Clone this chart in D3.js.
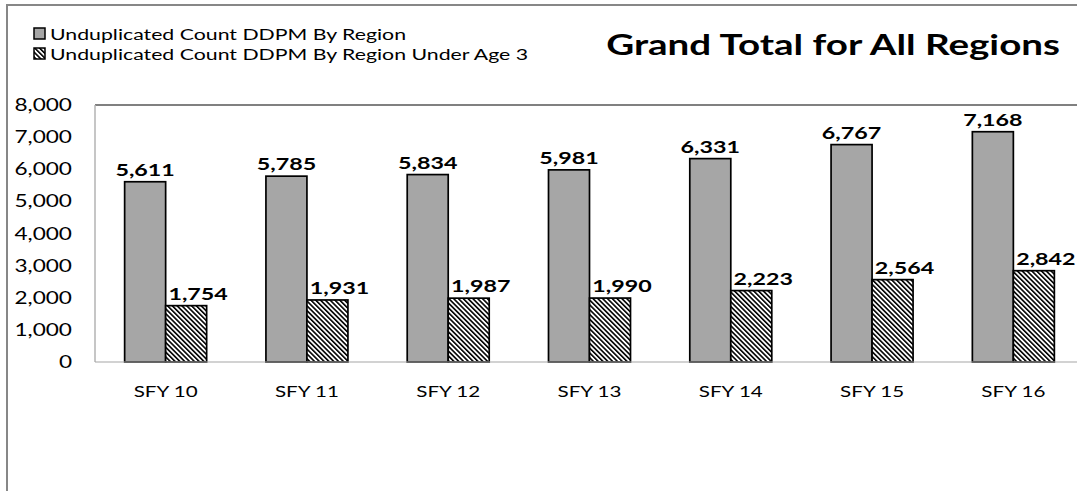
<!DOCTYPE html>
<html>
<head>
<meta charset="utf-8">
<script src="https://cdn.jsdelivr.net/npm/d3@7"></script>
<style>
  body { margin: 0; background: #fff; }
  svg { display: block; font-family: Lato, "Open Sans", sans-serif; }
</style>
</head>
<body>
<svg width="1077" height="491"></svg>
<script>
var years = ["SFY 10", "SFY 11", "SFY 12", "SFY 13", "SFY 14", "SFY 15", "SFY 16"];
var allCounts = [5611, 5785, 5834, 5981, 6331, 6767, 7168];
var under3Counts = [1754, 1931, 1987, 1990, 2223, 2564, 2842];
var seriesNames = ["Unduplicated Count DDPM By Region", "Unduplicated Count DDPM By Region Under Age 3"];
var yTicks = [0, 1000, 2000, 3000, 4000, 5000, 6000, 7000, 8000];
var title = "Grand Total for All Regions";

// the picture is wider than the text inside it, so text gets squeezed out sideways
var SX = 1.33;

var svg = d3.select("svg"),
    plot = {left: 95, top: 105, right: 1084, bottom: 362};

var defs = svg.append("defs");
defs.append("pattern")
    .attr("id", "hatch")
    .attr("patternUnits", "userSpaceOnUse")
    .attr("width", 3.4).attr("height", 3.4)
    .attr("patternTransform", "rotate(-45)")
    .call(function (p) {
        p.append("rect").attr("width", 3.4).attr("height", 3.4).attr("fill", "#fff");
        p.append("rect").attr("width", 1.6).attr("height", 3.4).attr("fill", "#000");
    });

function place(sel, x, y) {
    return sel.attr("transform", "translate(" + x + "," + y + ") scale(" + SX + ",1)");
}

// outer frame
svg.append("rect")
    .attr("x", 7).attr("y", 5)
    .attr("width", 1200).attr("height", 600)
    .attr("fill", "none")
    .attr("stroke", "#878787")
    .attr("stroke-width", 2);

var x = d3.scaleBand().domain(years).range([plot.left, plot.right]);
var y = d3.scaleLinear().domain([0, 8000]).range([plot.bottom, plot.top]);
var barW = 41;

// plot frame
svg.append("line")
    .attr("x1", plot.left).attr("x2", 1100)
    .attr("y1", plot.top).attr("y2", plot.top)
    .attr("stroke", "#808080").attr("stroke-width", 2);
svg.append("line")
    .attr("x1", plot.left).attr("x2", plot.left)
    .attr("y1", plot.top).attr("y2", plot.bottom)
    .attr("stroke", "#b3b3b3").attr("stroke-width", 1.5);

// y axis labels
var yAxis = svg.append("g").attr("class", "y-axis");
yAxis.selectAll("text")
    .data(yTicks)
    .enter().append("text")
    .each(function (d) { place(d3.select(this), 72, y(d) + 6); })
    .attr("text-anchor", "end")
    .style("font-size", "17px")
    .attr("fill", "#000")
    .text(function (d) { return d3.format(",")(d); });

// bars
var groups = svg.selectAll(".yr")
    .data(years)
    .enter().append("g")
    .attr("class", "yr");

groups.append("rect")
    .attr("x", function (d) { return x(d) + x.bandwidth() / 2 - barW; })
    .attr("y", function (d, i) { return y(allCounts[i]); })
    .attr("width", barW)
    .attr("height", function (d, i) { return y(0) - y(allCounts[i]); })
    .attr("fill", "#a6a6a6")
    .attr("stroke", "#000")
    .attr("stroke-width", 1.7);

groups.append("rect")
    .attr("x", function (d) { return x(d) + x.bandwidth() / 2; })
    .attr("y", function (d, i) { return y(under3Counts[i]); })
    .attr("width", barW)
    .attr("height", function (d, i) { return y(0) - y(under3Counts[i]); })
    .attr("fill", "url(#hatch)")
    .attr("stroke", "#000")
    .attr("stroke-width", 1.7);

// baseline
svg.append("line")
    .attr("x1", plot.left).attr("x2", 1100)
    .attr("y1", y(0)).attr("y2", y(0))
    .attr("stroke", "#a6a6a6").attr("stroke-width", 1.2);

// value labels
groups.append("text")
    .each(function (d, i) { place(d3.select(this), x(d) + x.bandwidth() / 2 - barW / 2, y(allCounts[i]) - 6); })
    .attr("text-anchor", "middle")
    .style("font-size", "17.5px")
    .style("font-weight", "bold")
    .text(function (d, i) { return d3.format(",")(allCounts[i]); });

groups.append("text")
    .each(function (d, i) { place(d3.select(this), x(d) + x.bandwidth() / 2 + barW / 2 + 12, y(under3Counts[i]) - 6); })
    .attr("text-anchor", "middle")
    .style("font-size", "17.5px")
    .style("font-weight", "bold")
    .text(function (d, i) { return d3.format(",")(under3Counts[i]); });

// category labels
groups.append("text")
    .each(function (d) { place(d3.select(this), x(d) + x.bandwidth() / 2, 397); })
    .attr("text-anchor", "middle")
    .style("font-size", "15.5px")
    .text(function (d) { return d; });

// legend
var legend = svg.append("g").attr("class", "legend");
seriesNames.forEach(function (name, i) {
    var ly = 28 + i * 20;
    legend.append("rect")
        .attr("x", 34).attr("y", ly)
        .attr("width", 11).attr("height", 11)
        .attr("fill", i === 0 ? "#a6a6a6" : "url(#hatch)")
        .attr("stroke", "#000").attr("stroke-width", 1.5);
    legend.append("text")
        .call(place, 50, ly + 11.5)
        .style("font-size", "16px")
        .text(name);
});

// title
svg.append("text")
    .call(place, 1060, 55)
    .attr("text-anchor", "end")
    .style("font-size", "29px")
    .style("font-weight", "bold")
    .text(title);
</script>
</body>
</html>
